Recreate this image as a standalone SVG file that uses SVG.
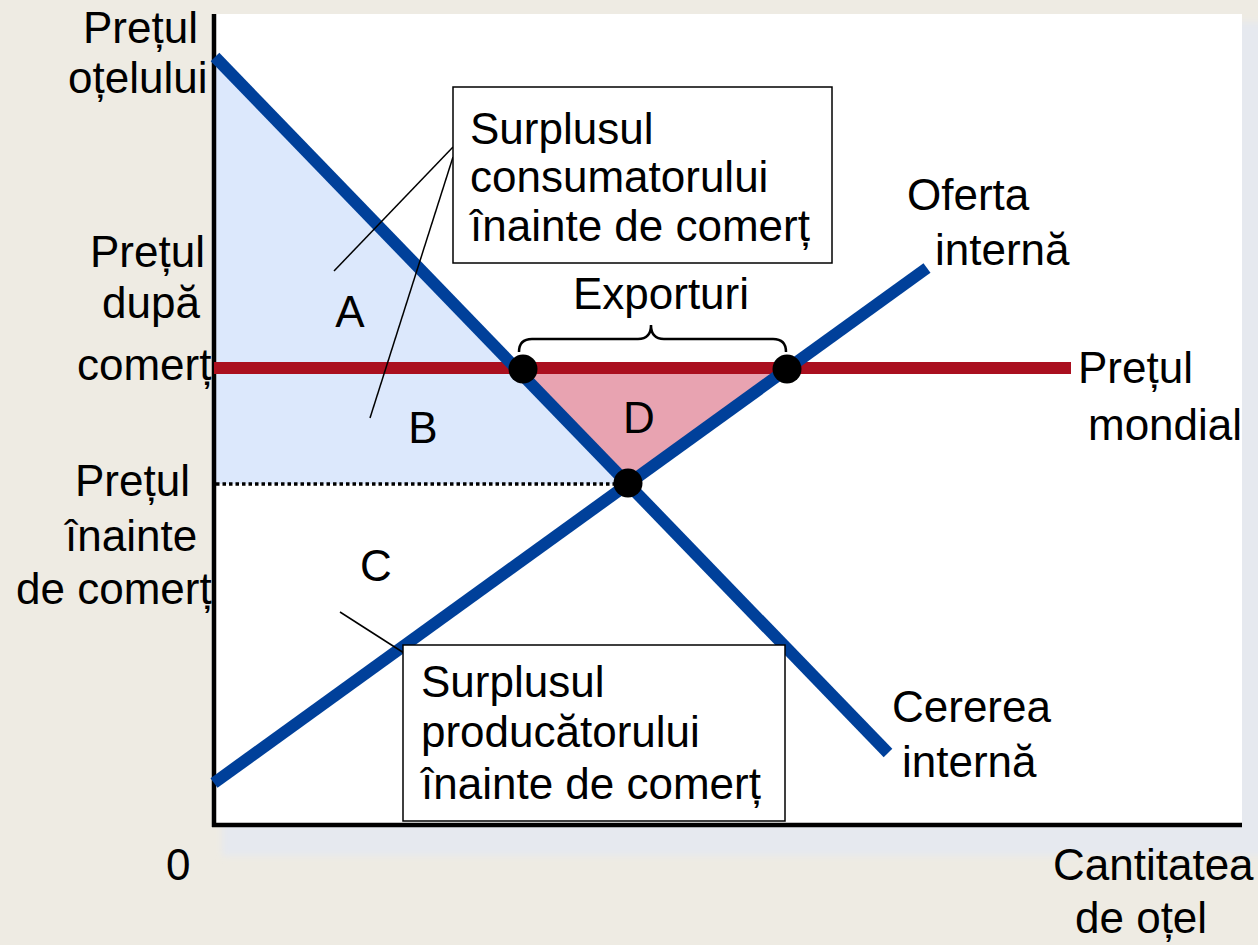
<svg xmlns="http://www.w3.org/2000/svg" width="1258" height="945" viewBox="0 0 1258 945">
<defs>
<style>
text{font-family:"Liberation Sans",Arial,sans-serif;font-size:44px;fill:#000}
.curve{fill:none;stroke:#00409A;stroke-width:12;stroke-linecap:butt}
.world{fill:none;stroke:#AA0F1F;stroke-width:12}
.axis{stroke:#000;stroke-width:4.5;fill:none}
.leader{stroke:#000;stroke-width:1.5;fill:none}
.box{fill:#fff;stroke:#000;stroke-width:1.5}
.dot{fill:#000}
</style>
<filter id="soft" x="-5%" y="-5%" width="110%" height="110%"><feGaussianBlur stdDeviation="3"/></filter>
</defs>
<rect width="1258" height="945" fill="#EEEBE3"/>
<g id="plot">
<rect x="222" y="22" width="1050" height="834" fill="#E6E9EF" filter="url(#soft)"/>
<rect x="214" y="14" width="1028" height="812" fill="#fff"/>
<polygon id="consumer-surplus" points="214,57 628,484 214,484" fill="#DCE8FC"/>
<polygon id="area-D" points="523,369 787,369 628,483" fill="#E8A3B1"/>
<line x1="216" y1="484" x2="616" y2="484" stroke="#000" stroke-width="3.5" stroke-dasharray="3.5,3"/>
<line class="axis" x1="214" y1="14" x2="214" y2="827"/>
<line class="axis" x1="212" y1="825" x2="1242" y2="825"/>
</g>
<g id="curves">
<line id="world-price" class="world" x1="214" y1="368" x2="1071" y2="368"/>
<line id="demand" class="curve" x1="215" y1="57" x2="888" y2="753"/>
<line id="supply" class="curve" x1="214" y1="783" x2="927" y2="268"/>
</g>
<g id="connectors">
<line class="leader" x1="453" y1="147" x2="334" y2="271"/>
<line class="leader" x1="453" y1="157" x2="370" y2="418"/>
<line class="leader" x1="340" y1="612" x2="404" y2="653"/>
<path id="brace" d="M519,352 Q519,339 532,339 L638,339 Q651,339 651,325 Q651,339 664,339 L773,339 Q786,339 786,352" fill="none" stroke="#000" stroke-width="2.5"/>
</g>
<g id="points">
<circle class="dot" cx="523" cy="369" r="14.5"/>
<circle class="dot" cx="787" cy="369" r="14.5"/>
<circle class="dot" cx="628" cy="483" r="14.5"/>
</g>
<g id="box-consumer">
<rect class="box" x="453" y="87" width="379" height="176"/>
<text x="470" y="144">Surplusul</text>
<text x="470" y="192">consumatorului</text>
<text x="470" y="241">înainte de comerț</text>
</g>
<g id="box-producer">
<rect class="box" x="403" y="645" width="382" height="176"/>
<text x="421" y="697">Surplusul</text>
<text x="421" y="747">producătorului</text>
<text x="421" y="799">înainte de comerț</text>
</g>
<g id="area-labels">
<text x="350" y="327" text-anchor="middle">A</text>
<text x="423" y="443" text-anchor="middle">B</text>
<text x="376" y="581" text-anchor="middle">C</text>
<text x="639" y="433" text-anchor="middle">D</text>
<text x="661" y="309" text-anchor="middle">Exporturi</text>
</g>
<g id="y-axis-labels">
<text x="83" y="43">Prețul</text>
<text x="68" y="93">oțelului</text>
<text x="90" y="267">Prețul</text>
<text x="102" y="318">după</text>
<text x="77" y="380">comerț</text>
<text x="75" y="496">Prețul</text>
<text x="65" y="551">înainte</text>
<text x="16" y="604">de comerț</text>
<text x="166" y="880">0</text>
</g>
<g id="curve-labels">
<text x="907" y="210">Oferta</text>
<text x="935" y="265">internă</text>
<text x="1078" y="383">Prețul</text>
<text x="1088" y="440">mondial</text>
<text x="892" y="722">Cererea</text>
<text x="902" y="777">internă</text>
<text x="1053" y="880">Cantitatea</text>
<text x="1075" y="933">de oțel</text>
</g>
</svg>
